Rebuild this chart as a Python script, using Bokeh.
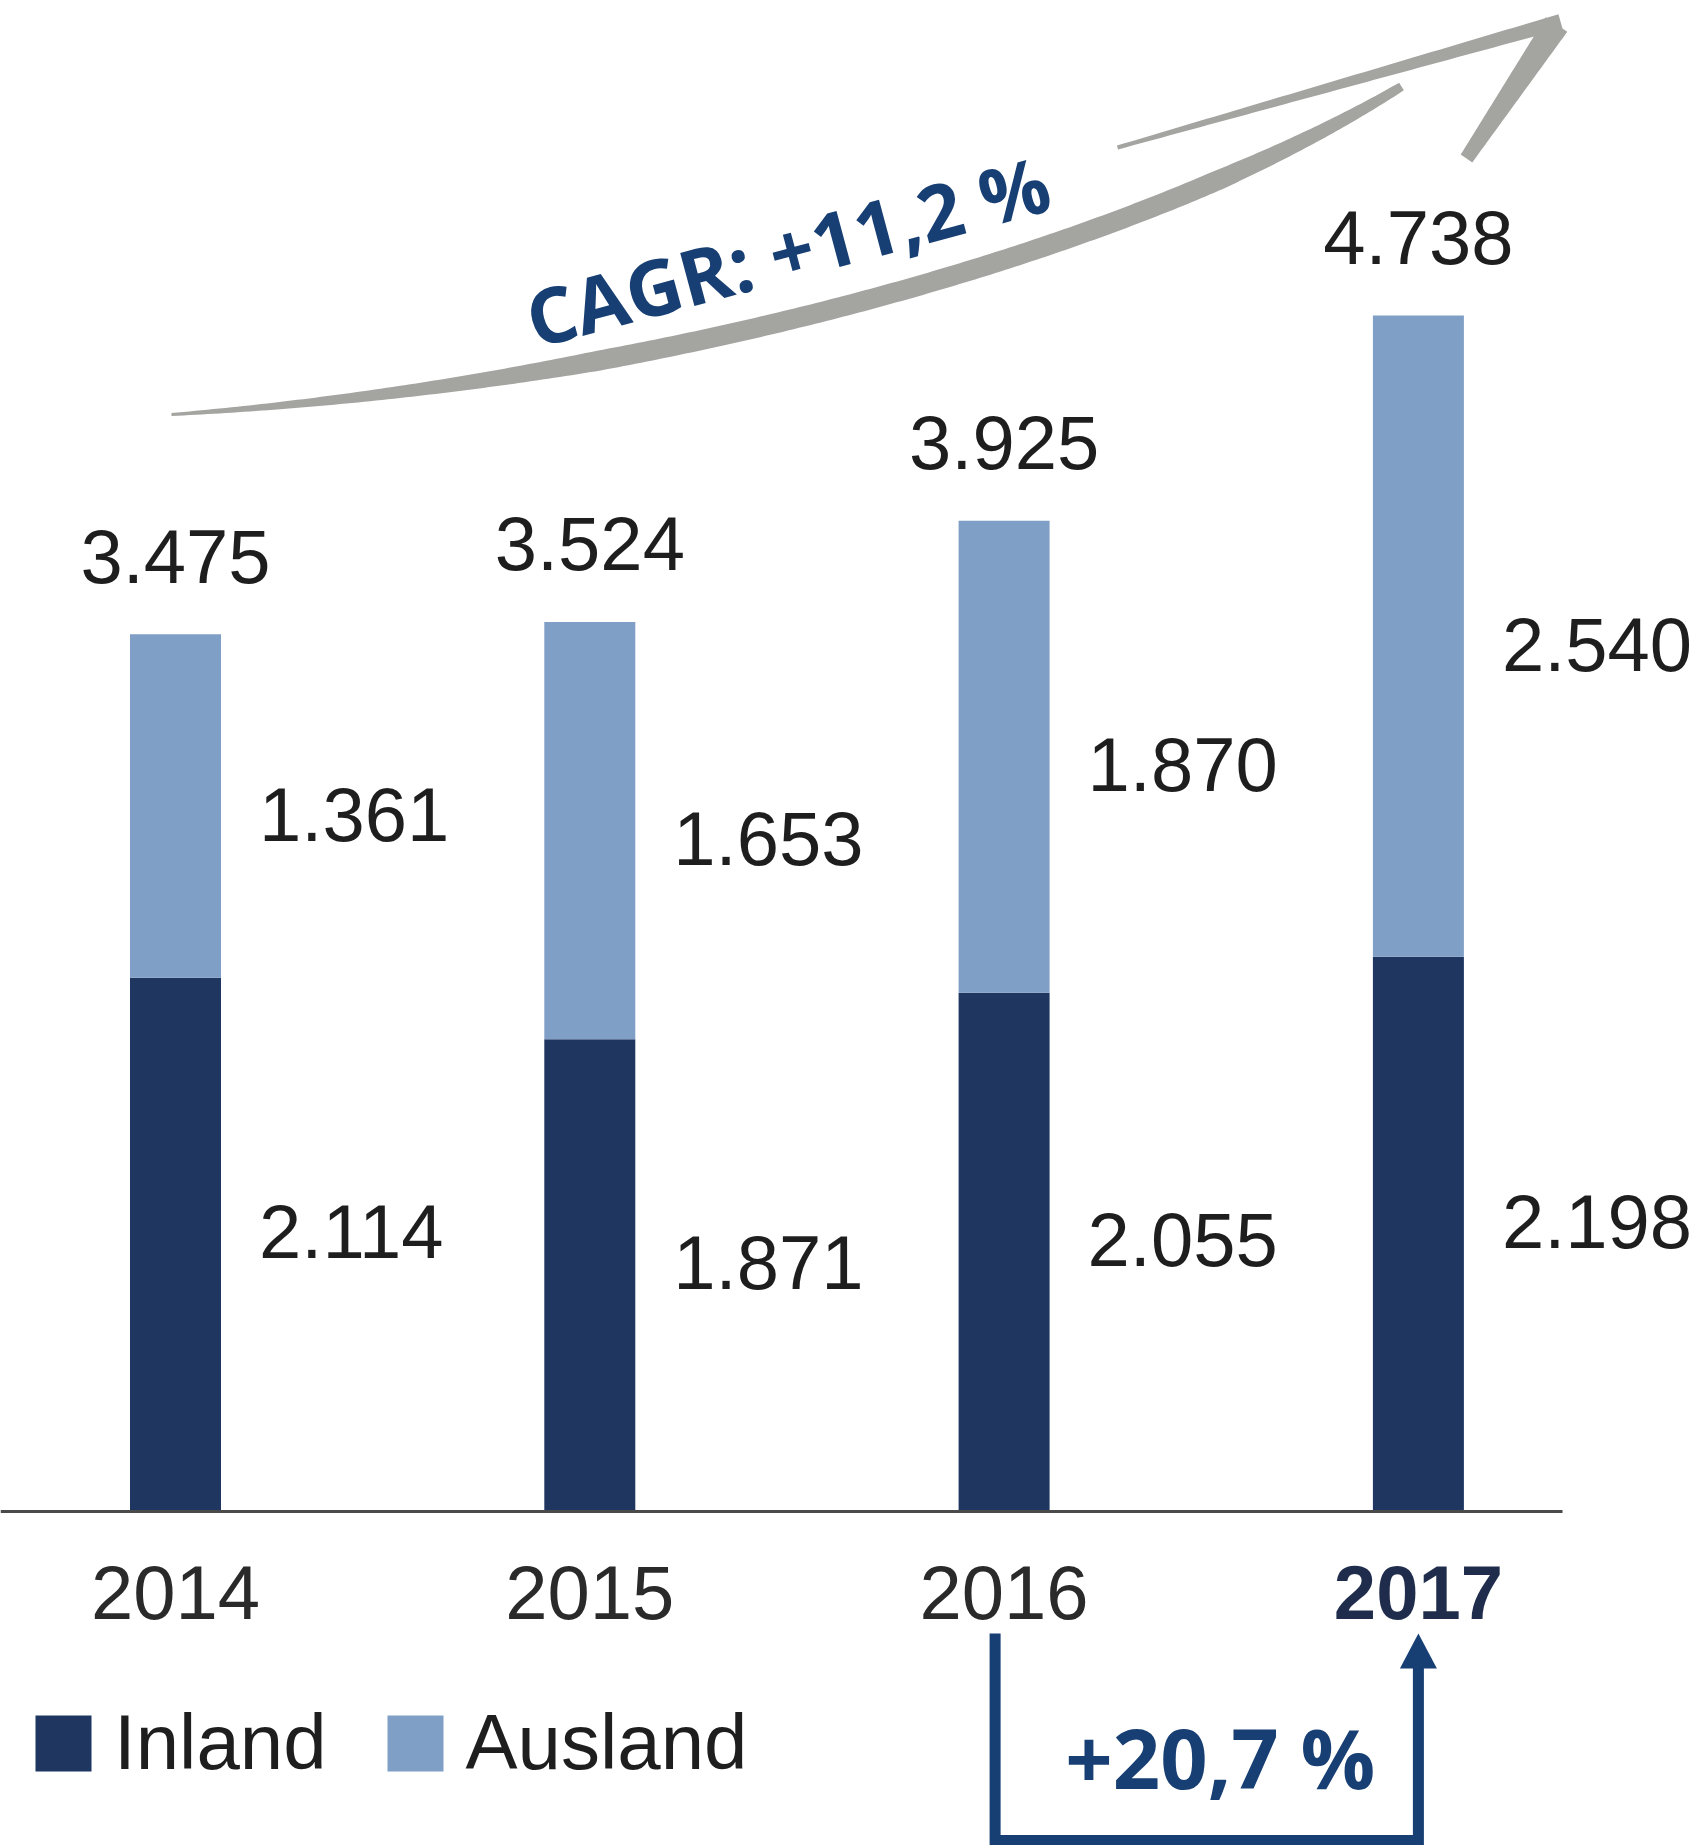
import numpy as np
from bokeh.plotting import figure
from bokeh.models import ColumnDataSource, Legend, LegendItem, Range1d
from bokeh.core.properties import value
from bokeh.embed import file_html
from bokeh.resources import INLINE

# ---------------- data ----------------
years = ["2014", "2015", "2016", "2017"]
inland = [2114, 1871, 2055, 2198]
ausland = [1361, 1653, 1870, 2540]
series_names = ["Inland", "Ausland"]
cagr_label = "CAGR: +11,2 %"
yoy_label = "+20,7 %"

totals = [a + b for a, b in zip(inland, ausland)]


def de(v):
    return f"{v:,}".replace(",", ".")


# ---------------- geometry (page pixels -> data) ----------------
W, H = 1707, 1845
X0, DX = 175.0, 414.3          # page x of first bar centre, spacing
BASE = 1511.0                  # page y of the zero line
K = 1196.0 / 4738.0            # pixels per unit


def X(px):
    return (np.asarray(px, dtype=float) - X0) / DX


def Y(py):
    return (BASE - np.asarray(py, dtype=float)) / K


# text anchor correction (rendered text sits this many px below the anchor)
FIX_NUM = 28 / K
FIX_OS = 32 / K

xs = list(range(len(years)))
bar_w = 91.0 / DX

NAVY = "#1f3660"
LIGHT = "#809fc6"
TXT = "#1e1e1e"
BLUE = "#173f73"
GREY = "#a4a5a0"
NUM_FONT = value("Liberation Sans")

p = figure(width=W, height=H, output_backend="svg", toolbar_location=None,
           x_range=Range1d(float(X(0)), float(X(W))),
           y_range=Range1d(float(Y(H)), float(Y(0))),
           x_axis_type=None, y_axis_type=None, min_border=0)
p.outline_line_color = None
p.xgrid.visible = False
p.ygrid.visible = False
p.background_fill_color = "white"
p.border_fill_color = "white"

# ---------------- bars ----------------
src = ColumnDataSource(dict(x=xs, inland=inland, total=totals))
r_in = p.vbar(x="x", width=bar_w, bottom=0, top="inland", source=src,
              fill_color=NAVY, line_color=None)
r_aus = p.vbar(x="x", width=bar_w, bottom="inland", top="total", source=src,
               fill_color=LIGHT, line_color=None)

# zero line
p.segment(x0=float(X(0)), y0=0, x1=float(X(1562)), y1=0,
          line_color="#4a4a4a", line_width=3)

# totals above bars
p.text(x=xs, y=[t + 50 / K + FIX_NUM for t in totals], text=[de(t) for t in totals],
       text_align="center", text_baseline="alphabetic",
       text_font=NUM_FONT, text_font_size="76px", text_color=TXT)

# segment labels to the right of the bars
lab_x = [x + (91 / 2 + 38) / DX for x in xs]
p.text(x=lab_x, y=[v / 2 - (27 - 12) / K + FIX_NUM for v in inland],
       text=[de(v) for v in inland],
       text_align="left", text_baseline="alphabetic",
       text_font=NUM_FONT, text_font_size="76px", text_color=TXT)
p.text(x=lab_x, y=[i + a / 2 - (27 + 9) / K + FIX_NUM for i, a in zip(inland, ausland)],
       text=[de(v) for v in ausland],
       text_align="left", text_baseline="alphabetic",
       text_font=NUM_FONT, text_font_size="76px", text_color=TXT)

# year labels
ysrc = ColumnDataSource(dict(
    x=xs, y=[-109 / K + FIX_NUM] * len(xs), text=years,
    style=["normal"] * (len(years) - 1) + ["bold"],
    color=["#2a2a2a"] * (len(years) - 1) + ["#1f2c4c"]))
p.text(x="x", y="y", text="text", source=ysrc, text_align="center",
       text_baseline="alphabetic", text_font=NUM_FONT, text_font_size="76px",
       text_font_style="style", text_color="color")

# legend
legend = Legend(items=[LegendItem(label=series_names[0], renderers=[r_in]),
                       LegendItem(label=series_names[1], renderers=[r_aus])],
                orientation="horizontal", location=(28, 57),
                glyph_width=70, glyph_height=70, label_standoff=16, spacing=53,
                padding=0, margin=0, border_line_color=None,
                background_fill_alpha=0,
                label_text_font="Liberation Sans", label_text_font_size="78px",
                label_text_color=TXT)
p.add_layout(legend)

# ---------------- CAGR brush arrow ----------------
def bezier(p0, p1, p2, p3, n=240):
    t = np.linspace(0, 1, n)[:, None]
    p0, p1, p2, p3 = map(np.asarray, (p0, p1, p2, p3))
    return ((1 - t) ** 3) * p0 + 3 * ((1 - t) ** 2) * t * p1 + 3 * (1 - t) * t ** 2 * p2 + t ** 3 * p3


def stroke(pts, w):
    d = np.gradient(pts, axis=0)
    nrm = np.stack([-d[:, 1], d[:, 0]], axis=1)
    nrm /= np.linalg.norm(nrm, axis=1)[:, None]
    left = pts + nrm * (w / 2)[:, None]
    right = pts - nrm * (w / 2)[:, None]
    poly = np.vstack([left, right[::-1]])
    return list(X(poly[:, 0])), list(Y(poly[:, 1]))


shaft = bezier((171, 414), (650, 382), (1130, 252), (1401, 86))
t = np.linspace(0, 1, len(shaft))
w_shaft = (3 + 17 * np.clip(t / 0.3, 0, 1)) * (1 - 0.55 * np.clip((t - 0.8) / 0.2, 0, 1))
sx, sy = stroke(shaft, w_shaft)
p.patch(sx, sy, fill_color=GREY, line_color=None)

n = 60
barb1 = np.column_stack([np.linspace(1117, 1560, n), np.linspace(147, 21, n)])
bx, by = stroke(barb1, np.linspace(4, 15, n))
p.patch(bx, by, fill_color=GREY, line_color=None)

barb2 = np.column_stack([np.linspace(1556, 1466, n), np.linspace(24, 158, n)])
bx, by = stroke(barb2, np.linspace(26, 14, n))
p.patch(bx, by, fill_color=GREY, line_color=None)

p.text(x=[float(X(787))], y=[float(Y(250))], text=[cagr_label], angle=15,
       angle_units="deg", text_align="center", text_baseline="middle",
       text_font=value("Open Sans"), text_font_style="bold",
       text_font_size="77px", text_color=BLUE)

# ---------------- 2016 -> 2017 bracket ----------------
top_px = BASE + 122
bot_px = 1840
head_px = 35
lx = xs[2] - 9 / DX
rx = xs[3]
p.line(x=[lx, lx, rx, rx],
       y=[float(Y(top_px)), float(Y(bot_px)), float(Y(bot_px)), float(Y(top_px + head_px - 2))],
       line_color=BLUE, line_width=11, line_join="miter")
p.patch(x=[rx - 18.5 / DX, rx, rx + 18.5 / DX],
        y=[float(Y(top_px + head_px)), float(Y(top_px)), float(Y(top_px + head_px))],
        fill_color=BLUE, line_color=None)
p.text(x=[(xs[2] + xs[3]) / 2 + 9 / DX], y=[float(Y(1788)) + FIX_OS], text=[yoy_label],
       text_align="center", text_baseline="alphabetic",
       text_font=value("Open Sans"), text_font_style="bold",
       text_font_size="83px", text_color=BLUE)

open("out.html", "w").write(file_html(p, INLINE))
